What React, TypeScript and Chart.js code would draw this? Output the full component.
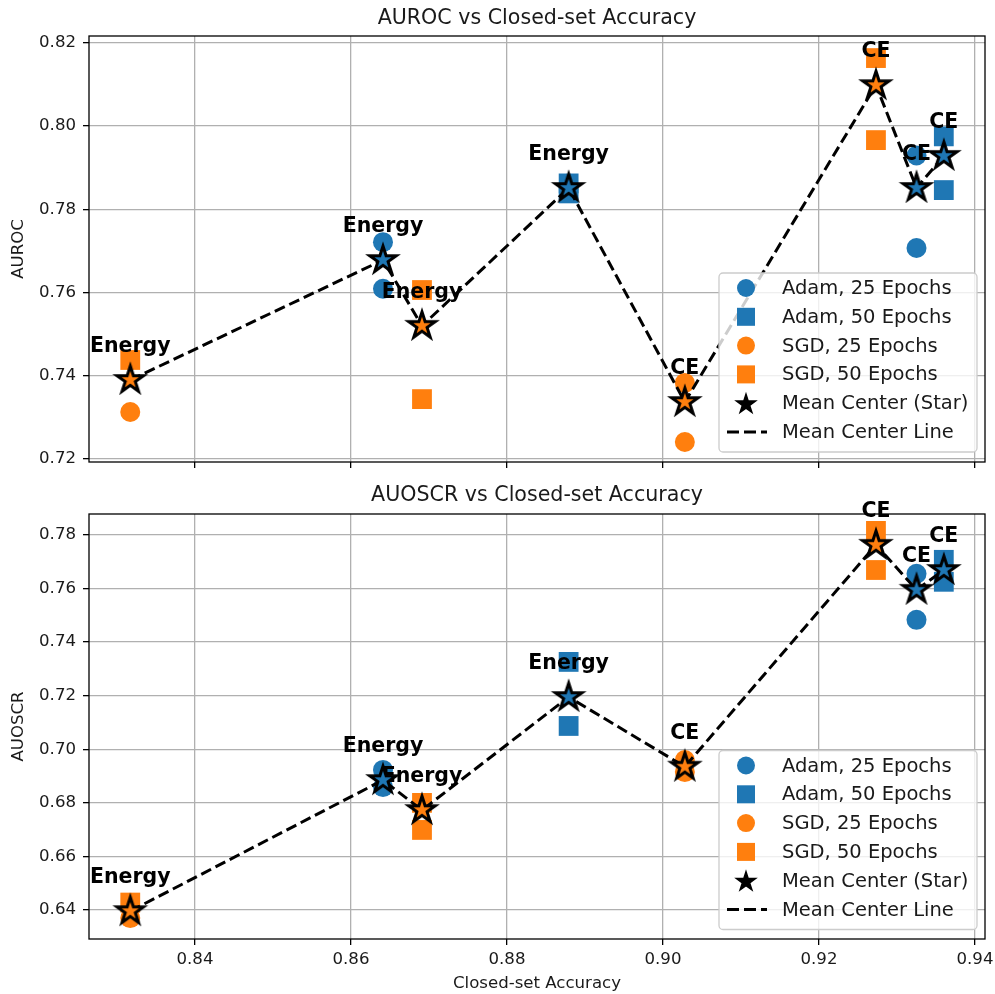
import React, { useEffect, useRef } from 'react';
import { Chart, registerables } from 'chart.js';
Chart.register(...registerables);

// ---------------- data ----------------
const xTicks = [0.84, 0.86, 0.88, 0.90, 0.92, 0.94];
const aurocTicks = [0.72, 0.74, 0.76, 0.78, 0.80, 0.82];
const auoscrTicks = [0.64, 0.66, 0.68, 0.70, 0.72, 0.74, 0.76, 0.78];

const groupX = [0.8317, 0.8641, 0.8691, 0.8879, 0.9028, 0.9273, 0.9325, 0.9360];
const groupLoss = ['Energy', 'Energy', 'Energy', 'Energy', 'CE', 'CE', 'CE', 'CE'];
const groupOpt = ['SGD', 'Adam', 'SGD', 'Adam', 'SGD', 'SGD', 'Adam', 'Adam'];

const legendLabels = ['Adam, 25 Epochs', 'Adam, 50 Epochs', 'SGD, 25 Epochs', 'SGD, 50 Epochs', 'Mean Center (Star)', 'Mean Center Line'];

// AUROC
const aurocAdam25 = [[0.8641, 0.7721], [0.8641, 0.7609], [0.9325, 0.7929], [0.9325, 0.7707]];
const aurocAdam50 = [[0.8879, 0.7862], [0.8879, 0.7838], [0.9360, 0.7975], [0.9360, 0.7846]];
const aurocSgd25 = [[0.8317, 0.7313], [0.9028, 0.7383], [0.9028, 0.7241]];
const aurocSgd50 = [[0.8317, 0.7438], [0.8691, 0.7606], [0.8691, 0.7344], [0.9273, 0.8163], [0.9273, 0.7966]];
const aurocMean = [0.7390, 0.7678, 0.7520, 0.7851, 0.7337, 0.8098, 0.7851, 0.7928];

// AUOSCR
const auoscrAdam25 = [[0.8641, 0.6923], [0.8641, 0.6859], [0.9325, 0.7655], [0.9325, 0.7483]];
const auoscrAdam50 = [[0.8879, 0.7326], [0.8879, 0.7087], [0.9360, 0.7707], [0.9360, 0.7625]];
const auoscrSgd25 = [[0.8317, 0.6370], [0.9028, 0.6960], [0.9028, 0.6915]];
const auoscrSgd50 = [[0.8317, 0.6428], [0.8691, 0.6800], [0.8691, 0.6699], [0.9273, 0.7815], [0.9273, 0.7669]];
const auoscrMean = [0.6396, 0.6885, 0.6773, 0.7195, 0.6935, 0.7763, 0.7595, 0.7669];

// ---------------- styles ----------------
const BLUE = '#1f77b4';
const ORANGE = '#ff7f0e';
const FONT = '"DejaVu Sans", sans-serif';
const TXT = '#1a1a1a';
const X_MIN = 0.82641;
const X_MAX = 0.94128;

function starPath(ctx: CanvasRenderingContext2D, cx: number, cy: number, R: number, r: number) {
  ctx.beginPath();
  for (let i = 0; i < 10; i++) {
    const rad = i % 2 === 0 ? R : r;
    const a = -Math.PI / 2 + (i * Math.PI) / 5;
    const px = cx + rad * Math.cos(a);
    const py = cy + rad * Math.sin(a);
    if (i === 0) ctx.moveTo(px, py);
    else ctx.lineTo(px, py);
  }
  ctx.closePath();
}

function makeStar(color: string, R: number, lw: number) {
  const c = document.createElement('canvas');
  const s = 2 * Math.ceil(R + lw * 3 + 2);
  c.width = s;
  c.height = s;
  const ctx = c.getContext('2d')!;
  starPath(ctx, s / 2, s / 2, R, R * 0.382);
  ctx.fillStyle = color;
  ctx.fill();
  ctx.lineJoin = 'miter';
  ctx.miterLimit = 10;
  ctx.lineWidth = lw;
  ctx.strokeStyle = '#000';
  ctx.stroke();
  return c;
}

const toPts = (arr: number[][]) => arr.map(([x, y]) => ({ x, y }));

function drawLegend(ctx: CanvasRenderingContext2D, area: any, bottomGap: number) {
  const w = 258;
  const h = 179;
  const x0 = area.right - 8 - w;
  const y0 = area.bottom - bottomGap - h;
  ctx.save();
  ctx.beginPath();
  const rr = 4;
  ctx.moveTo(x0 + rr, y0);
  ctx.arcTo(x0 + w, y0, x0 + w, y0 + h, rr);
  ctx.arcTo(x0 + w, y0 + h, x0, y0 + h, rr);
  ctx.arcTo(x0, y0 + h, x0, y0, rr);
  ctx.arcTo(x0, y0, x0 + w, y0, rr);
  ctx.closePath();
  ctx.fillStyle = 'rgba(255,255,255,0.8)';
  ctx.fill();
  ctx.strokeStyle = '#cccccc';
  ctx.lineWidth = 1.3;
  ctx.stroke();

  const mx = x0 + 27;
  legendLabels.forEach((label, k) => {
    const cy = y0 + 15 + k * 28.8;
    ctx.save();
    if (k === 0 || k === 2) {
      ctx.fillStyle = k === 0 ? BLUE : ORANGE;
      ctx.beginPath();
      ctx.arc(mx, cy, 9, 0, Math.PI * 2);
      ctx.fill();
    } else if (k === 1 || k === 3) {
      ctx.fillStyle = k === 1 ? BLUE : ORANGE;
      ctx.fillRect(mx - 9, cy - 9, 18, 18);
    } else if (k === 4) {
      starPath(ctx, mx, cy + 1, 10, 10 * 0.382);
      ctx.fillStyle = '#000';
      ctx.fill();
      ctx.lineJoin = 'miter';
      ctx.lineWidth = 1.5;
      ctx.strokeStyle = '#000';
      ctx.stroke();
    } else {
      ctx.strokeStyle = '#000';
      ctx.lineWidth = 3;
      ctx.setLineDash([12, 5]);
      ctx.beginPath();
      ctx.moveTo(mx - 19, cy);
      ctx.lineTo(mx + 21, cy);
      ctx.stroke();
    }
    ctx.restore();
    ctx.fillStyle = TXT;
    ctx.font = `19.5px ${FONT}`;
    ctx.textAlign = 'left';
    ctx.textBaseline = 'middle';
    ctx.fillText(label, x0 + 63, cy + 1);
  });
  ctx.restore();
}

interface Panel {
  title: string;
  ylabel: string;
  yTicks: number[];
  yMin: number;
  yMax: number;
  adam25: number[][];
  adam50: number[][];
  sgd25: number[][];
  sgd50: number[][];
  mean: number[];
  showXLabels: boolean;
  height: number;
  padTop: number;
  xHeight: number;
  titleY: number;
  legendGap: number;
}

const STAR_INDEX = 5;

function buildConfig(p: Panel): any {
  const starBlue = makeStar(BLUE, 14, 3);
  const starOrange = makeStar(ORANGE, 14, 3);
  const meanPts = groupX.map((x, i) => ({ x, y: p.mean[i] }));

  const decor = {
    id: 'decor',
    beforeDatasetDraw(chart: any, args: any) {
      if (args.index !== STAR_INDEX) return;
      const ctx = chart.ctx;
      const xs = chart.scales.x;
      const ys = chart.scales.y;
      ctx.save();
      ctx.font = `bold 20.5px ${FONT}`;
      ctx.fillStyle = '#000';
      ctx.textAlign = 'center';
      ctx.textBaseline = 'middle';
      groupX.forEach((x, i) => {
        ctx.fillText(groupLoss[i], xs.getPixelForValue(x), ys.getPixelForValue(p.mean[i]) - 33);
      });
      ctx.restore();
    },
    afterDraw(chart: any) {
      const ctx = chart.ctx;
      const a = chart.chartArea;
      ctx.save();
      // spines
      ctx.strokeStyle = '#000';
      ctx.lineWidth = 1.3;
      ctx.strokeRect(a.left, a.top, a.right - a.left, a.bottom - a.top);
      // title
      ctx.fillStyle = TXT;
      ctx.font = `20.6px ${FONT}`;
      ctx.textAlign = 'center';
      ctx.textBaseline = 'middle';
      ctx.fillText(p.title, (a.left + a.right) / 2, p.titleY);
      // y label
      ctx.save();
      ctx.translate(19, (a.top + a.bottom) / 2);
      ctx.rotate(-Math.PI / 2);
      ctx.font = `16.6px ${FONT}`;
      ctx.fillText(p.ylabel, 0, 0);
      ctx.restore();
      // x label
      if (p.showXLabels) {
        ctx.font = `16.6px ${FONT}`;
        ctx.fillText('Closed-set Accuracy', (a.left + a.right) / 2, a.bottom + 45);
      }
      ctx.restore();
      drawLegend(ctx, a, p.legendGap);
    },
  };

  return {
    type: 'scatter',
    data: {
      datasets: [
        { label: legendLabels[0], data: toPts(p.adam25), pointStyle: 'circle', pointRadius: 10, backgroundColor: BLUE, borderWidth: 0, order: 9 },
        { label: legendLabels[1], data: toPts(p.adam50), pointStyle: 'rect', pointRadius: 14, backgroundColor: BLUE, borderWidth: 0, order: 8 },
        { label: legendLabels[2], data: toPts(p.sgd25), pointStyle: 'circle', pointRadius: 10, backgroundColor: ORANGE, borderWidth: 0, order: 7 },
        { label: legendLabels[3], data: toPts(p.sgd50), pointStyle: 'rect', pointRadius: 14, backgroundColor: ORANGE, borderWidth: 0, order: 6 },
        { type: 'line', label: legendLabels[5], data: meanPts, showLine: true, borderColor: '#000', borderWidth: 3, borderDash: [11, 5], pointRadius: 0, fill: false, tension: 0, order: 2 },
        { label: legendLabels[4], data: meanPts, pointStyle: groupOpt.map((o) => (o === 'Adam' ? starBlue : starOrange)), pointRadius: 18, order: 1 },
      ],
    },
    options: {
      animation: false,
      responsive: false,
      events: [],
      layout: { autoPadding: false, padding: { left: 0, right: 10, top: p.padTop, bottom: 0 } },
      plugins: { legend: { display: false }, tooltip: { enabled: false }, title: { display: false } },
      scales: {
        x: {
          type: 'linear',
          min: X_MIN,
          max: X_MAX,
          afterBuildTicks: (s: any) => { s.ticks = xTicks.map((v) => ({ value: v })); },
          afterFit: (s: any) => {
            s.height = p.xHeight;
            s.paddingLeft = 0;
            s.paddingRight = 0;
          },
          ticks: {
            display: p.showXLabels,
            callback: (v: any) => Number(v).toFixed(2),
            font: { family: FONT, size: 16.6 },
            color: TXT,
            padding: 5,
            maxRotation: 0,
            autoSkip: false,
          },
          grid: { color: '#b0b0b0', lineWidth: 1.3, tickColor: '#000', tickLength: 6, tickWidth: 1.3 },
          border: { display: false },
        },
        y: {
          type: 'linear',
          min: p.yMin,
          max: p.yMax,
          afterBuildTicks: (s: any) => { s.ticks = p.yTicks.map((v) => ({ value: v })); },
          afterFit: (s: any) => {
            s.width = 89;
            s.paddingTop = 0;
            s.paddingBottom = 0;
          },
          ticks: {
            callback: (v: any) => Number(v).toFixed(2),
            font: { family: FONT, size: 16.6 },
            color: TXT,
            padding: 7,
            autoSkip: false,
          },
          grid: { color: '#b0b0b0', lineWidth: 1.3, tickColor: '#000', tickLength: 6, tickWidth: 1.3 },
          border: { display: false },
        },
      },
    },
    plugins: [decor],
  };
}

const topPanel: Panel = {
  title: 'AUROC vs Closed-set Accuracy',
  ylabel: 'AUROC',
  yTicks: aurocTicks,
  yMin: 0.7193,
  yMax: 0.8216,
  adam25: aurocAdam25,
  adam50: aurocAdam50,
  sgd25: aurocSgd25,
  sgd50: aurocSgd50,
  mean: aurocMean,
  showXLabels: false,
  height: 480,
  padTop: 36,
  xHeight: 18,
  titleY: 19,
  legendGap: 10,
};

const bottomPanel: Panel = {
  title: 'AUOSCR vs Closed-set Accuracy',
  ylabel: 'AUOSCR',
  yTicks: auoscrTicks,
  yMin: 0.6292,
  yMax: 0.7878,
  adam25: auoscrAdam25,
  adam50: auoscrAdam50,
  sgd25: auoscrSgd25,
  sgd50: auoscrSgd50,
  mean: auoscrMean,
  showXLabels: true,
  height: 514,
  padTop: 34,
  xHeight: 55,
  titleY: 16,
  legendGap: 9.5,
};

export default function App() {
  const topRef = useRef<HTMLCanvasElement>(null);
  const botRef = useRef<HTMLCanvasElement>(null);
  useEffect(() => {
    const c1 = new Chart(topRef.current as HTMLCanvasElement, buildConfig(topPanel));
    const c2 = new Chart(botRef.current as HTMLCanvasElement, buildConfig(bottomPanel));
    return () => {
      c1.destroy();
      c2.destroy();
    };
  }, []);
  return (
    <div style={{ position: 'absolute', left: 0, top: 0, width: 995, height: 994, background: '#fff' }}>
      <canvas ref={topRef} width={995} height={topPanel.height} style={{ position: 'absolute', left: 0, top: 0 }} />
      <canvas ref={botRef} width={995} height={bottomPanel.height} style={{ position: 'absolute', left: 0, top: 480 }} />
    </div>
  );
}
